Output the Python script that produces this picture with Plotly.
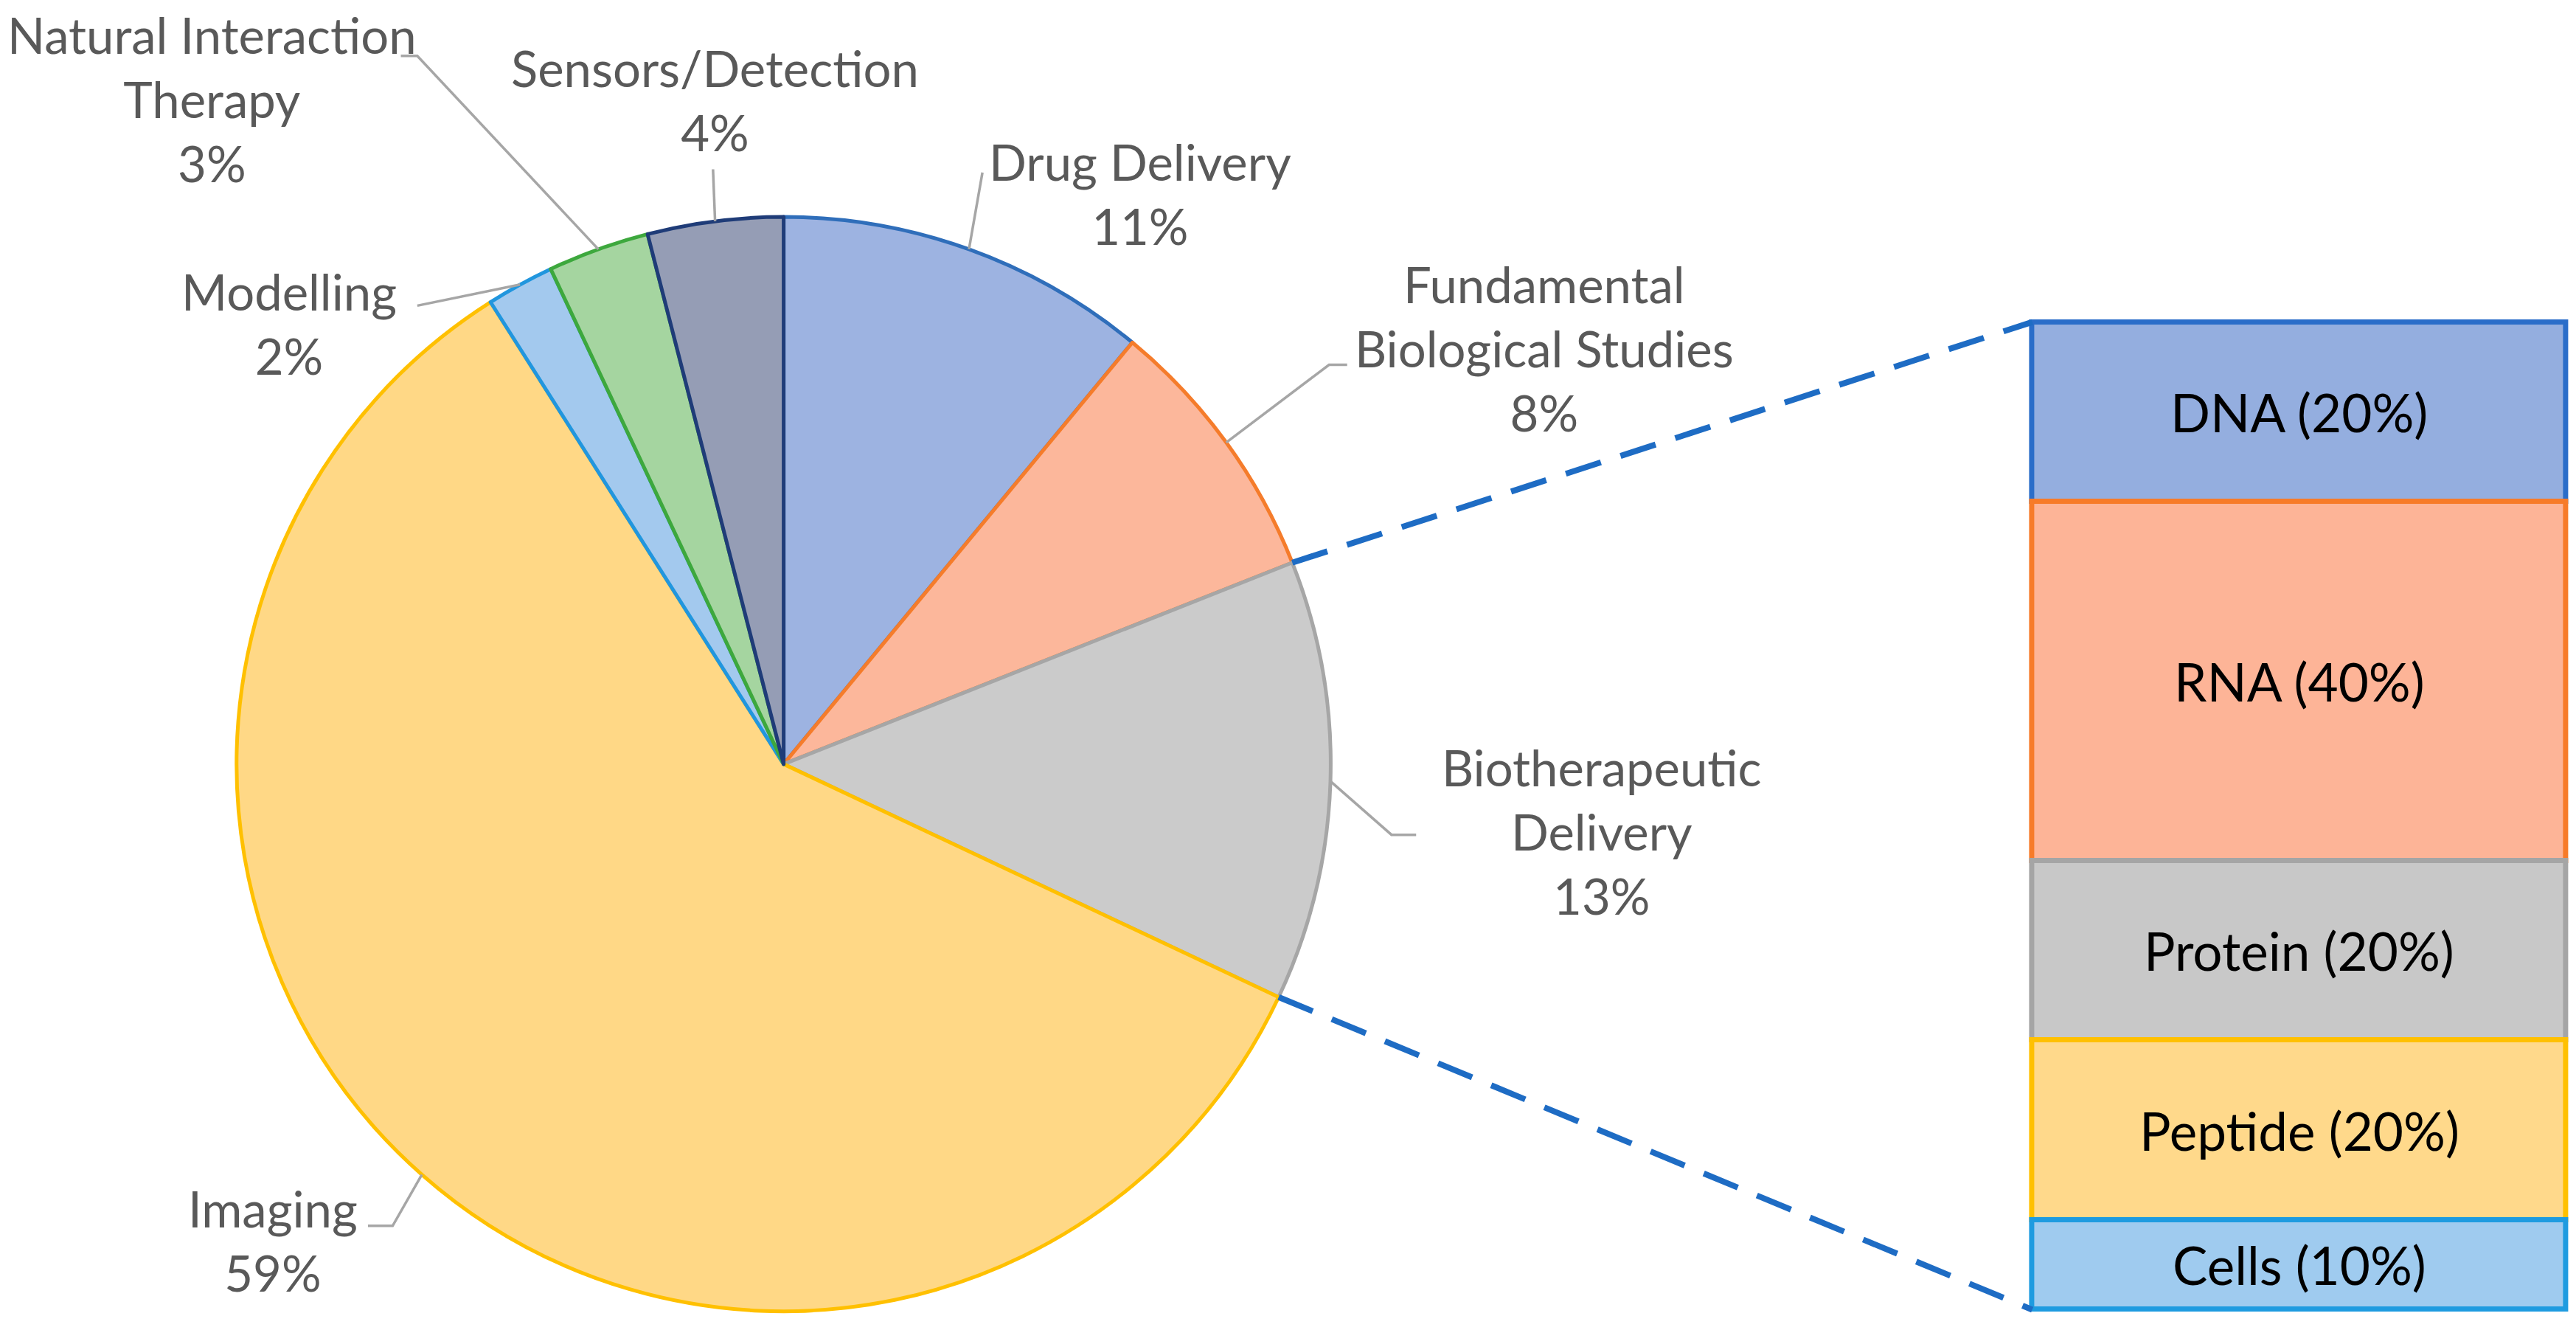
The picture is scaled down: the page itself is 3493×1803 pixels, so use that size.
import math
import plotly.graph_objects as go

W, H = 3493, 1803
S = W / 1568.0  # layout coordinates below are given on a 1568-wide grid

# ---------------- data ----------------
pie_labels = ["Drug Delivery", "Fundamental Biological Studies", "Biotherapeutic Delivery",
              "Imaging", "Modelling", "Natural Interaction Therapy", "Sensors/Detection"]
pie_label_lines = ["Drug Delivery", "Fundamental<br>Biological Studies", "Biotherapeutic<br>Delivery",
                   "Imaging", "Modelling", "Natural Interaction<br>Therapy", "Sensors/Detection"]
pie_values = [11, 8, 13, 59, 2, 3, 4]

bar_labels = ["DNA", "RNA", "Protein", "Peptide", "Cells"]
bar_values = [20, 40, 20, 20, 10]
exploded_slice = "Biotherapeutic Delivery"

# ---------------- styles ----------------
pie_fill = ["#9DB3E1", "#FCB79B", "#CBCBCB", "#FFD886", "#A3C9EE", "#A5D5A0", "#959DB5"]
pie_line = ["#2F6EBA", "#F57C2B", "#A6A6A6", "#FFC000", "#2196DE", "#3DA83D", "#1F3C78"]
bar_fill = ["#94AEDF", "#FDB497", "#C8C8C8", "#FFD98B", "#9FCBEF"]
bar_line = ["#2A6DC9", "#F77B29", "#A5A5A5", "#FFC000", "#1E9BE0"]

PIE_CX, PIE_CY, PIE_R = 477, 465, 333
BAR_X0, BAR_X1, BAR_TOP, BAR_BOT = 1237, 1562, 196, 797

label_pos = {
    "Drug Delivery": (694, 118),
    "Fundamental Biological Studies": (940, 212),
    "Biotherapeutic Delivery": (975, 506),
    "Imaging": (166, 755),
    "Modelling": (176, 197),
    "Natural Interaction Therapy": (129, 60),
    "Sensors/Detection": (435, 61),
}
leader_pts = {
    "Drug Delivery": [(598, 105)],
    "Fundamental Biological Studies": [(809, 222), (820, 222)],
    "Biotherapeutic Delivery": [(847, 508), (862, 508)],
    "Imaging": [(239, 746), (224, 746)],
    "Modelling": [(254, 186)],
    "Natural Interaction Therapy": [(254, 34), (244, 34)],
    "Sensors/Detection": [(434, 103)],
}


def fx(xd):
    return xd * S / W


def fy(yd):
    return 1 - yd * S / H


def edge(frac):
    th = 2 * math.pi * frac
    return PIE_CX + PIE_R * math.sin(th), PIE_CY - PIE_R * math.cos(th)


fig = go.Figure()

fig.add_trace(go.Pie(
    labels=pie_labels, values=pie_values, sort=False, direction="clockwise", rotation=0,
    textinfo="none", showlegend=False,
    marker=dict(colors=pie_fill, line=dict(color=pie_line, width=5)),
    domain=dict(x=[fx(PIE_CX - PIE_R), fx(PIE_CX + PIE_R)],
                y=[fy(PIE_CY + PIE_R), fy(PIE_CY - PIE_R)]),
))

# bar of pie: explicit bases, top segment drawn first so lower segments' top borders show
bar_total = sum(bar_values)
top = bar_total
for lab, v, fc, lc in zip(bar_labels, bar_values, bar_fill, bar_line):
    fig.add_trace(go.Bar(x=[0], y=[v], base=[top - v], name=lab, showlegend=False, width=1,
                         marker=dict(color=fc, line=dict(color=lc, width=7)),
                         xaxis="x", yaxis="y"))
    top -= v

total = sum(pie_values)
shapes = []
annotations = []

# labels + leader lines
cum = 0
for name, lines, v in zip(pie_labels, pie_label_lines, pie_values):
    mid = (cum + v / 2) / total
    ex, ey = edge(mid)
    pts = [(ex, ey)] + leader_pts[name]
    path = "M " + " L ".join(f"{fx(px):.5f},{fy(py):.5f}" for px, py in pts)
    shapes.append(dict(type="path", xref="paper", yref="paper", path=path,
                       line=dict(color="#A6A6A6", width=3.5)))
    cx, cy = label_pos[name]
    annotations.append(dict(x=fx(cx), y=fy(cy), xref="paper", yref="paper",
                            text=f"{lines}<br>{v}%", showarrow=False,
                            xanchor="center", yanchor="middle", align="center",
                            font=dict(family="Lato", size=67, color="#595959")))
    cum += v

# dashed connectors from the exploded slice to the bar
idx = pie_labels.index(exploded_slice)
start = sum(pie_values[:idx]) / total
end = sum(pie_values[:idx + 1]) / total
sx, sy = edge(start)
bx, by = edge(end)
for (px, py), (qx, qy) in [((sx, sy), (BAR_X0, BAR_TOP)), ((bx, by), (BAR_X0, BAR_BOT))]:
    shapes.append(dict(type="line", xref="paper", yref="paper",
                       x0=fx(px), y0=fy(py), x1=fx(qx), y1=fy(qy),
                       line=dict(color="#1E6CC4", width=8, dash="50px,28px")))

# bar segment labels
top = bar_total
for lab, v in zip(bar_labels, bar_values):
    annotations.append(dict(x=0, y=top - v / 2, xref="x", yref="y",
                            text=f"{lab} ({v}%)", showarrow=False,
                            xanchor="center", yanchor="middle",
                            font=dict(family="Lato", size=71, color="#000000")))
    top -= v

# axis padding so bar borders are not clipped
p = 0.01
q = 1.2
ux = BAR_X1 - BAR_X0
uy = (BAR_BOT - BAR_TOP) / bar_total

fig.update_layout(
    width=W, height=H, margin=dict(l=0, r=0, t=0, b=0),
    paper_bgcolor="white", plot_bgcolor="rgba(0,0,0,0)",
    barmode="overlay", bargap=0,
    xaxis=dict(domain=[fx(BAR_X0 - p * ux), fx(BAR_X1 + p * ux)], range=[-0.5 - p, 0.5 + p],
               visible=False, fixedrange=True),
    yaxis=dict(domain=[fy(BAR_BOT + q * uy), fy(BAR_TOP - q * uy)], range=[-q, bar_total + q],
               visible=False, fixedrange=True),
    shapes=shapes, annotations=annotations, showlegend=False,
)

fig.write_html("out.html", config={"displayModeBar": False},
               post_script="document.body.style.margin='0';document.body.style.overflow='hidden';")
